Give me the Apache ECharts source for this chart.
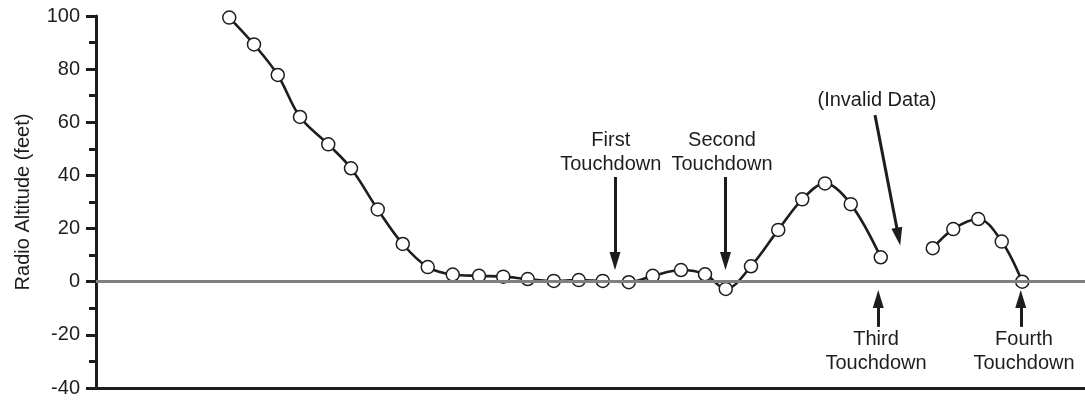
<!DOCTYPE html>
<html>
<head>
<meta charset="utf-8">
<script src="https://cdn.jsdelivr.net/npm/echarts@6/dist/echarts.min.js"></script>
<style>html,body{margin:0;padding:0;background:#fff}#c{width:1085px;height:400px}</style>
</head>
<body>
<div id="c"></div>
<script>
// Time (arbitrary sample units) and radio altitude (feet)
var times = [5.33, 6.32, 7.27, 8.16, 9.29, 10.2, 11.27, 12.27, 13.27, 14.27, 15.32, 16.29, 17.27, 18.31, 19.31, 20.27, 21.31, 22.27, 23.4, 24.36, 25.19, 26.2, 27.29, 28.25, 29.16, 30.19, 31.39, 32.4, 33.47, 34.29, 35.29, 36.23, 37.05];
var altitude = [99.4, 89.3, 77.8, 62.0, 51.7, 42.7, 27.2, 14.2, 5.5, 2.7, 2.2, 1.9, 1.0, 0.3, 0.6, 0.3, -0.2, 2.2, 4.4, 2.8, -2.7, 5.8, 19.5, 31.0, 37.0, 29.2, 9.2, null, 12.6, 19.8, 23.6, 15.1, 0.0];
var yTicks = { min: -40, max: 100, interval: 20 };
var xRange = { min: 0, max: 39.56 };

// annotation texts and their anchor points (data units)
var noteTexts = ['First\nTouchdown', 'Second\nTouchdown', '(Invalid Data)', 'Third\nTouchdown', 'Fourth\nTouchdown'];
var noteX = [20.59, 25.04, 31.24, 31.2, 37.12];
var noteY = [48.8, 48.8, 68.3, -26.1, -26.1];

// arrows: start and end (data units)
var arrowX0 = [20.76, 25.18, 31.16, 31.29, 36.99];
var arrowY0 = [39.4, 39.4, 62.7, -17.0, -17.0];
var arrowX1 = [20.76, 25.18, 32.1, 31.29, 36.99];
var arrowY1 = [7.8, 7.8, 17.0, -6.5, -6.5];

var ink = '#1f1c1d';
var FONT = '"Liberation Sans", Arial, Helvetica, sans-serif';

var lineData = times.map(function (t, i) { return [t, altitude[i] === null ? '-' : altitude[i]]; });
var noteData = noteTexts.map(function (s, i) { return { coord: [noteX[i], noteY[i]], name: s, value: s }; });
var arrowData = arrowX0.map(function (x, i) {
  return [{ coord: [x, arrowY0[i]] }, { coord: [arrowX1[i], arrowY1[i]] }];
});

var chart = echarts.init(document.getElementById('c'), null, { renderer: 'canvas' });
chart.setOption({
  animation: false,
  backgroundColor: '#fff',
  grid: { left: 96, right: 0, top: 16, bottom: 12, containLabel: false },
  xAxis: {
    type: 'value', min: xRange.min, max: xRange.max,
    axisLine: { show: true, onZero: false, lineStyle: { color: ink, width: 3 } },
    axisTick: { show: false }, axisLabel: { show: false }, splitLine: { show: false }
  },
  yAxis: {
    type: 'value', min: yTicks.min, max: yTicks.max, interval: yTicks.interval,
    name: 'Radio Altitude (feet)', nameLocation: 'middle', nameGap: 63, nameRotate: 90,
    nameTextStyle: { color: ink, fontSize: 20, fontFamily: FONT },
    axisLine: { show: true, onZero: false, lineStyle: { color: ink, width: 3 } },
    axisTick: { show: true, length: 10, lineStyle: { color: ink, width: 3 } },
    minorTick: { show: true, splitNumber: 2, length: 7, lineStyle: { color: ink, width: 3 } },
    axisLabel: { color: ink, fontSize: 20, fontFamily: FONT, margin: 16 },
    splitLine: { show: false }, minorSplitLine: { show: false }
  },
  series: [
    {
      type: 'line', data: [], z: 1, silent: true,
      markLine: {
        silent: true, symbol: ['none', 'none'], label: { show: false },
        lineStyle: { color: '#808080', width: 3.2, type: 'solid' },
        data: [{ yAxis: 0 }]
      }
    },
    {
      type: 'line', data: lineData, z: 3, smooth: 0.35, connectNulls: false,
      symbol: 'circle', symbolSize: 13, showAllSymbol: true,
      lineStyle: { color: ink, width: 2.6 },
      itemStyle: { color: '#fff', borderColor: ink, borderWidth: 1.5 }
    },
    {
      type: 'line', data: [], z: 4, silent: true,
      markLine: {
        silent: true, symbol: ['none', 'triangle'], symbolSize: [11, 18],
        label: { show: false },
        lineStyle: { color: ink, width: 3, type: 'solid', opacity: 1 },
        itemStyle: { color: ink },
        data: arrowData
      },
      markPoint: {
        silent: true, symbol: 'circle', symbolSize: 0,
        itemStyle: { color: 'rgba(0,0,0,0)' },
        label: {
          show: true, position: 'inside', formatter: function (p) { return p.name; },
          color: ink, fontSize: 20, fontFamily: FONT, lineHeight: 24, align: 'center', verticalAlign: 'middle',
          textBorderWidth: 0
        },
        data: noteData
      }
    }
  ]
});
</script>
</body>
</html>
